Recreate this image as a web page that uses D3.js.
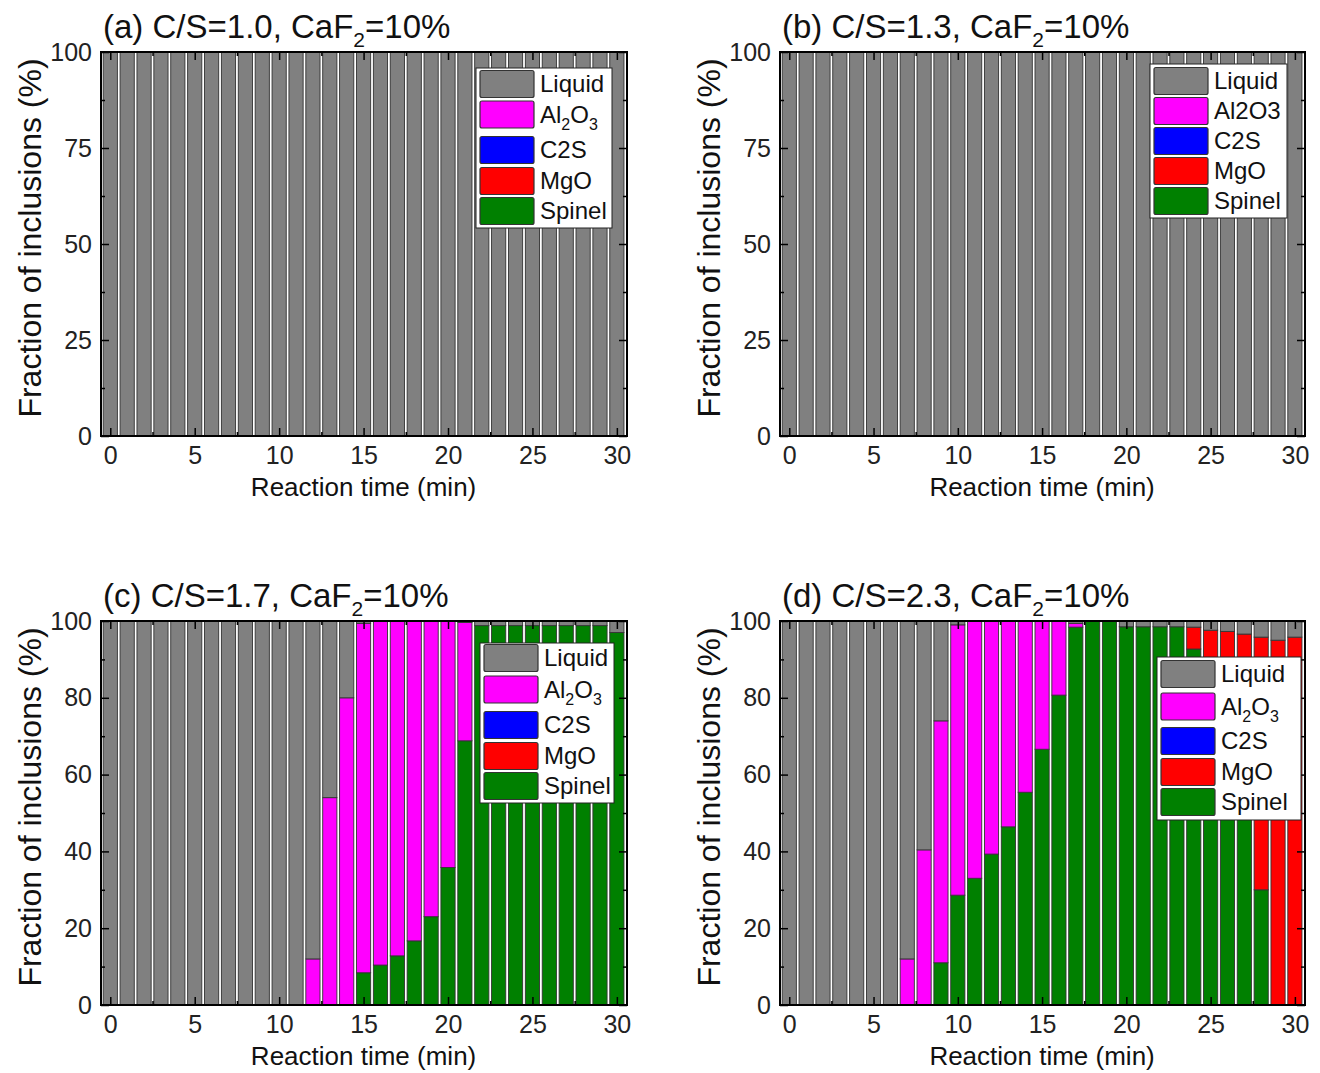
<!DOCTYPE html>
<html>
<head>
<meta charset="utf-8">
<script src="https://cdn.jsdelivr.net/npm/d3@7"></script>
<style>
  body { margin: 0; background: #fff; }
  svg { font-family: Arial, "Liberation Sans", sans-serif; }
  .axis path { display: none; }
  .axis line { stroke: #000; stroke-width: 1.5; }
  .axis text { font-size: 25px; fill: #222; }
</style>
</head>
<body>
<svg width="1320" height="1073"></svg>
<script>
// reaction time (min)
var times = [0,1,2,3,4,5,6,7,8,9,10,11,12,13,14,15,16,17,18,19,20,21,22,23,24,25,26,27,28,29,30];

// (a) and (b): everything is liquid
var liquidAB  = [100,100,100,100,100,100,100,100,100,100,100,100,100,100,100,100,100,100,100,100,100,100,100,100,100,100,100,100,100,100,100];
var noneAB    = [0,0,0,0,0,0,0,0,0,0,0,0,0,0,0,0,0,0,0,0,0,0,0,0,0,0,0,0,0,0,0];

// (c) C/S=1.7
var liquidC  = [100,100,100,100,100,100,100,100,100,100,100,100,88,46,20,0.6,0,0,0,0,0,0.4,1.2,1.2,1.2,1.2,1.2,1.2,1.2,1.2,3];
var aluminaC = [0,0,0,0,0,0,0,0,0,0,0,0,12,54,80,91,89.6,87.2,83.3,77,64.2,30.8,0,0,0,0,0,0,0,0,0];
var c2sC     = [0,0,0,0,0,0,0,0,0,0,0,0,0,0,0,0,0,0,0,0,0,0,0,0,0,0,0,0,0,0,0];
var mgoC     = [0,0,0,0,0,0,0,0,0,0,0,0,0,0,0,0,0,0,0,0,0,0,0,0,0,0,0,0,0,0,0];
var spinelC  = [0,0,0,0,0,0,0,0,0,0,0,0,0,0,0,8.4,10.4,12.8,16.7,23,35.8,68.8,98.8,98.8,98.8,98.8,98.8,98.8,98.8,98.8,97];

// (d) C/S=2.3
var liquidD  = [100,100,100,100,100,100,100,88,59.6,26,1,0,0,0,0,0,0,0.6,0,0,1.5,1.5,1.5,1.5,1.6,2.4,2.7,3.4,4.2,5,4.2];
var aluminaD = [0,0,0,0,0,0,0,12,40.4,63,70.4,67,60.7,53.6,44.6,33.4,19.3,1,0,0,0,0,0,0,0,0,0,0,0,0,0];
var c2sD     = [0,0,0,0,0,0,0,0,0,0,0,0,0,0,0,0,0,0,0,0,0,0,0,0,0,0,0,0,0,0,0];
var mgoD     = [0,0,0,0,0,0,0,0,0,0,0,0,0,0,0,0,0,0,0,0,0,0,0,0,5.7,7.6,9.3,11.6,65.8,95,95.8];
var spinelD  = [0,0,0,0,0,0,0,0,0,11,28.6,33,39.3,46.4,55.4,66.6,80.7,98.4,100,100,98.5,98.5,98.5,98.5,92.7,90,88,85,30,0,0];

var keys = ["spinel", "mgo", "c2s", "alumina", "liquid"];   // bottom -> top
var colors = {liquid: "#808080", alumina: "#ff00ff", c2s: "#0000ff", mgo: "#ff0000", spinel: "#008000"};
var legendOrder = ["liquid", "alumina", "c2s", "mgo", "spinel"];

var panels = [
  {tag: "(a)", cs: "1.0", left: 101, top: 52, w: 526, h: 384, yTicks: [0,25,50,75,100], yMinor: [12.5,37.5,62.5,87.5],
   series: {liquid: liquidAB, alumina: noneAB, c2s: noneAB, mgo: noneAB, spinel: noneAB},
   legend: {x: 476, y: 68, w: 136, h: 160, rows: [84, 114.5, 150, 181, 211]}, sub: true},
  {tag: "(b)", cs: "1.3", left: 780, top: 52, w: 525, h: 384, yTicks: [0,25,50,75,100], yMinor: [12.5,37.5,62.5,87.5],
   series: {liquid: liquidAB, alumina: noneAB, c2s: noneAB, mgo: noneAB, spinel: noneAB},
   legend: {x: 1150, y: 64, w: 137, h: 154, rows: [81, 111, 141, 171, 201]}, sub: false},
  {tag: "(c)", cs: "1.7", left: 101, top: 621, w: 526, h: 384, yTicks: [0,20,40,60,80,100], yMinor: [10,30,50,70,90],
   series: {liquid: liquidC, alumina: aluminaC, c2s: c2sC, mgo: mgoC, spinel: spinelC},
   legend: {x: 480, y: 643, w: 134, h: 160, rows: [658, 689.5, 725, 756, 786]}, sub: true},
  {tag: "(d)", cs: "2.3", left: 780, top: 621, w: 525, h: 384, yTicks: [0,20,40,60,80,100], yMinor: [10,30,50,70,90],
   series: {liquid: liquidD, alumina: aluminaD, c2s: c2sD, mgo: mgoD, spinel: spinelD},
   legend: {x: 1157, y: 657, w: 144, h: 163, rows: [674, 706.5, 741, 772, 802]}, sub: true}
];

var svg = d3.select("svg");

panels.forEach(function(p) {
  var x = d3.scaleLinear().domain([-0.55, 30.6]).range([0, p.w]),
      y = d3.scaleLinear().domain([0, 100]).range([p.h, 0]);

  var g = svg.append("g").attr("transform", "translate(" + p.left + "," + p.top + ")");

  var rows = times.map(function(t, i) {
    var r = {time: t};
    keys.forEach(function(k) { r[k] = p.series[k][i]; });
    return r;
  });

  var stacked = d3.stack().keys(keys)(rows);
  var half = 0.42;

  g.append("g").selectAll("g")
      .data(stacked)
    .enter().append("g")
      .attr("fill", function(d) { return colors[d.key]; })
    .selectAll("rect")
      .data(function(d) { return d.filter(function(s) { return s[1] - s[0] > 0; }); })
    .enter().append("rect")
      .attr("x", function(d) { return x(d.data.time - half); })
      .attr("y", function(d) { return y(d[1]); })
      .attr("width", x(half) - x(-half))
      .attr("height", function(d) { return y(d[0]) - y(d[1]); })
      .attr("stroke", "#333")
      .attr("stroke-width", 0.9);

  // major / minor ticks on all four sides, pointing inward
  var xMajor = [0,5,10,15,20,25,30], xMinor = [2.5,7.5,12.5,17.5,22.5,27.5];

  g.append("g")
      .attr("class", "axis")
      .attr("transform", "translate(0," + p.h + ")")
      .call(d3.axisBottom(x).tickValues(xMajor).tickSize(-8).tickPadding(10).tickFormat(d3.format("d")));
  g.append("g")
      .attr("class", "axis")
      .attr("transform", "translate(0," + p.h + ")")
      .call(d3.axisBottom(x).tickValues(xMinor).tickSize(-4).tickFormat(""));
  g.append("g")
      .attr("class", "axis")
      .call(d3.axisTop(x).tickValues(xMajor).tickSize(-8).tickFormat(""));
  g.append("g")
      .attr("class", "axis")
      .call(d3.axisTop(x).tickValues(xMinor).tickSize(-4).tickFormat(""));

  g.append("g")
      .attr("class", "axis")
      .call(d3.axisLeft(y).tickValues(p.yTicks).tickSize(-8).tickPadding(9).tickFormat(d3.format("d")));
  g.append("g")
      .attr("class", "axis")
      .call(d3.axisLeft(y).tickValues(p.yMinor).tickSize(-4).tickFormat(""));
  g.append("g")
      .attr("class", "axis")
      .attr("transform", "translate(" + p.w + ",0)")
      .call(d3.axisRight(y).tickValues(p.yTicks).tickSize(-8).tickFormat(""));
  g.append("g")
      .attr("class", "axis")
      .attr("transform", "translate(" + p.w + ",0)")
      .call(d3.axisRight(y).tickValues(p.yMinor).tickSize(-4).tickFormat(""));

  g.append("rect")
      .attr("width", p.w)
      .attr("height", p.h)
      .attr("fill", "none")
      .attr("stroke", "#000")
      .attr("stroke-width", 2);

  // title
  var title = g.append("text")
      .attr("x", 2)
      .attr("y", -14)
      .attr("font-size", 33)
      .attr("fill", "#111");
  title.append("tspan").text(p.tag + " C/S=" + p.cs + ", CaF");
  title.append("tspan").attr("font-size", 21).attr("dy", 9).text("2");
  title.append("tspan").attr("dy", -9).text("=10%");

  // axis labels
  g.append("text")
      .attr("transform", "translate(" + (-60) + "," + (p.h / 2 - 6) + ") rotate(-90)")
      .attr("text-anchor", "middle")
      .attr("font-size", 32)
      .attr("fill", "#111")
      .text("Fraction of inclusions (%)");

  g.append("text")
      .attr("x", x(15))
      .attr("y", p.h + 60)
      .attr("text-anchor", "middle")
      .attr("font-size", 26)
      .attr("fill", "#111")
      .text("Reaction time (min)");

  // legend
  var L = p.legend;
  svg.append("rect")
      .attr("x", L.x)
      .attr("y", L.y)
      .attr("width", L.w)
      .attr("height", L.h)
      .attr("fill", "#fff")
      .attr("stroke", "#222")
      .attr("stroke-width", 1);

  legendOrder.forEach(function(k, i) {
    var cy = L.rows[i];
    svg.append("rect")
        .attr("x", L.x + 4)
        .attr("y", cy - 13.5)
        .attr("width", 54)
        .attr("height", 27)
        .attr("rx", 2)
        .attr("fill", colors[k])
        .attr("stroke", "#333")
        .attr("stroke-width", 1.2);
    var t = svg.append("text")
        .attr("x", L.x + 64)
        .attr("y", cy + 8)
        .attr("font-size", 24)
        .attr("fill", "#111");
    if (k === "alumina" && p.sub) {
      t.append("tspan").text("Al");
      t.append("tspan").attr("font-size", 16).attr("dy", 7).text("2");
      t.append("tspan").attr("dy", -7).text("O");
      t.append("tspan").attr("font-size", 16).attr("dy", 7).text("3");
    } else {
      t.text({liquid: "Liquid", alumina: "Al2O3", c2s: "C2S", mgo: "MgO", spinel: "Spinel"}[k]);
    }
  });
});
</script>
</body>
</html>
